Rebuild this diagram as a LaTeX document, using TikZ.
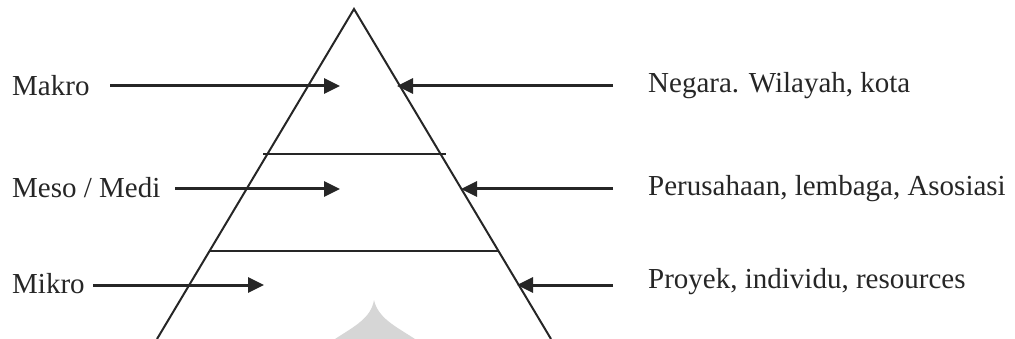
\documentclass[tikz,border=0pt]{standalone}
\usepackage{fontspec}
\setmainfont{Liberation Serif}
\usetikzlibrary{arrows.meta}
\tikzset{
  lbl/.style={anchor=base west, inner sep=0pt, font=\fontsize{29}{32}\selectfont, text=black!85},
  arr/.style={line width=3pt, draw=black!85, -{Triangle[length=16pt,width=15pt]}},
  edge/.style={line width=2pt, draw=black!85},
  level/.style={line width=2pt, draw=black!85}
}
\begin{document}
\begin{tikzpicture}[x=1pt,y=-1pt]
\useasboundingbox (0,0) rectangle (1015,339);
% watermark
\fill[black!16] (374,300) .. controls (378,318) and (395,326) .. (415,339) -- (335,339) .. controls (355,326) and (371,318) .. (374,300) -- cycle;
% pyramid
\coordinate (apex) at (354,9);
\coordinate (bl) at (157,339);
\coordinate (br) at (551,339);
\draw[edge] (bl) -- (apex) -- (br);
\coordinate (u1) at (263,154.5);
\coordinate (u2) at (446,154.5);
\coordinate (d1) at (209,251);
\coordinate (d2) at (498,251);
\draw[level] (u1) -- (u2);
\draw[level] (d1) -- (d2);
% labels
\node[lbl] (makro) at (12,96) {Makro};
\node[lbl] (meso) at (12,198) {Meso / Medi};
\node[lbl] (mikro) at (12,293) {Mikro};
\node[lbl] (negara) at (648,93) {Negara. Wilayah, kota};
\node[lbl] (perus) at (648,196) {Perusahaan, lembaga, Asosiasi};
\node[lbl] (proyek) at (648,288) {Proyek, individu, resources};
% arrow coordinates
\coordinate (a1s) at (110,86); \coordinate (a1e) at (340,86);
\coordinate (a2s) at (175,189); \coordinate (a2e) at (340,189);
\coordinate (a3s) at (93,285); \coordinate (a3e) at (264,285);
\coordinate (b1s) at (613,86); \coordinate (b1e) at (397,86);
\coordinate (b2s) at (613,189); \coordinate (b2e) at (461,189);
\coordinate (b3s) at (613,285); \coordinate (b3e) at (517,285);
\draw[arr] (a1s) -- (a1e);
\draw[arr] (a2s) -- (a2e);
\draw[arr] (a3s) -- (a3e);
\draw[arr] (b1s) -- (b1e);
\draw[arr] (b2s) -- (b2e);
\draw[arr] (b3s) -- (b3e);
\end{tikzpicture}
\end{document}
